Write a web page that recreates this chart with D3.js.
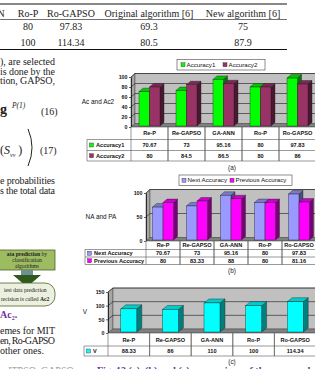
<!DOCTYPE html>
<html>
<head>
<meta charset="utf-8">
<script src="https://cdn.jsdelivr.net/npm/d3@7"></script>
<style>
  body { margin: 0; background: #fff; overflow: hidden; }
  svg { display: block; }
</style>
</head>
<body>
<div id="page"></div>
<script>
// chart data
const categories = ["Re-P", "Re-GAPSO", "GA-ANN", "Ro-P", "Ro-GAPSO"];
const accuracy1 = [70.67, 73, 95.16, 80, 97.83];
const accuracy2 = [80, 84.5, 86.5, 80, 86];
const nextAccuracy = [70.67, 73, 95.16, 80, 97.83];
const previousAccuracy = [80, 83.33, 88, 80, 81.16];
const vValues = [88.33, 86, 110, 100, 114.34];
const ticksA = [0, 20, 40, 60, 80, 100];
const ticksB = [0, 50, 100];
const ticksC = [0, 50, 100, 150];

// table at the top of the page
const topHeader = ["N", "Ro-P", "Ro-GAPSO", "Original algorithm [6]", "New algorithm [6]"];
const topRow1 = ["", "80", "97.83", "69.3", "75"];
const topRow2 = ["", "100", "114.34", "80.5", "87.9"];

const serif = "'Liberation Serif', 'Times New Roman', serif";
const sans = "'Liberation Sans', Arial, sans-serif";

function init() {
    let svg = d3.select("#page").append("svg")
        .attr("width", 315)
        .attr("height", 369);

    // ---- top table ----
    let colCenters = [1, 28, 71, 149, 243];
    let tbl = svg.append("g").attr("font-family", serif).attr("font-size", 10).attr("fill", "#222");
    tbl.append("line").attr("x1", 0).attr("x2", 287).attr("y1", 4).attr("y2", 4).attr("stroke", "#111").attr("stroke-width", 1);
    tbl.append("line").attr("x1", 0).attr("x2", 287).attr("y1", 19.5).attr("y2", 19.5).attr("stroke", "#111").attr("stroke-width", 0.6);
    tbl.append("line").attr("x1", 0).attr("x2", 287).attr("y1", 49.5).attr("y2", 49.5).attr("stroke", "#111").attr("stroke-width", 1);
    [[topHeader, 16.5], [topRow1, 30], [topRow2, 45.5]].forEach(([row, yy]) => {
        tbl.selectAll(null).data(row).join("text")
            .attr("x", (d, i) => colCenters[i])
            .attr("y", yy)
            .attr("text-anchor", "middle")
            .text(d => d);
    });

    // ---- left column text (page body) ----
    let body = svg.append("g").attr("font-family", serif).attr("font-size", 10).attr("fill", "#222");
    let justified = [["), are selected", 64.5], ["is done by the", 74.5], ["tion, GAPSO,", 83.5],
                     ["e probabilities", 183.5], ["s the total data", 193.5],
                     ["emes for MIT", 333.5], ["en, Ro-GAPSO", 343.5]];
    justified.forEach(([t, yy]) => {
        body.append("text").attr("x", 0).attr("y", yy)
            .attr("textLength", 55).attr("lengthAdjust", "spacing").text(t);
    });
    body.append("text").attr("x", 0).attr("y", 353.5).text("other ones.");

    // equation (16)
    body.append("text").attr("x", 0).attr("y", 114).attr("font-size", 14).attr("font-weight", "bold").text("g");
    body.append("text").attr("x", 12).attr("y", 108).attr("font-size", 7.5).attr("font-style", "italic").text("P(1)");
    body.append("text").attr("x", 41).attr("y", 115).text("(16)");
    // equation (17)
    let eq = body.append("text").attr("x", 0).attr("y", 154).attr("font-size", 12);
    eq.append("tspan").text("(");
    eq.append("tspan").attr("font-style", "italic").text("S");
    eq.append("tspan").attr("font-size", 6).attr("dy", 3).attr("font-style", "italic").text("vv");
    eq.append("tspan").attr("dy", -3).text(" )");
    body.append("path").attr("d", "M28,129 Q36,147.5 28,166").attr("fill", "none").attr("stroke", "#222").attr("stroke-width", 1);
    body.append("text").attr("x", 40).attr("y", 153.5).text("(17)");

    // flowchart fragment
    let fc = svg.append("g").attr("font-family", serif).attr("font-size", 5.6).attr("fill", "#222");
    fc.append("rect").attr("x", -2).attr("y", 250).attr("width", 57).attr("height", 20)
        .attr("fill", "#9dbb61").attr("stroke", "#4f6228").attr("stroke-width", 0.8);
    let f1 = fc.append("text").attr("x", 27).attr("y", 256).attr("text-anchor", "middle");
    f1.append("tspan").attr("font-weight", "bold").text("ata prediction");
    f1.append("tspan").text(" by");
    fc.append("text").attr("x", 27).attr("y", 262).attr("text-anchor", "middle").text("classification");
    fc.append("text").attr("x", 27).attr("y", 268).attr("text-anchor", "middle").text("algorithms");
    fc.append("rect").attr("x", 21).attr("y", 270).attr("width", 12).attr("height", 5).attr("fill", "#6c8f93");
    fc.append("polygon").attr("points", "13,275 41,275 27,287").attr("fill", "#2e5a1c");
    fc.append("rect").attr("x", -12).attr("y", 283).attr("width", 67).attr("height", 23).attr("rx", 10)
        .attr("fill", "#ebf1de").attr("stroke", "#4f6228").attr("stroke-width", 0.8);
    fc.append("text").attr("x", 4).attr("y", 292).text("iest data prediction");
    let f2 = fc.append("text").attr("x", 1).attr("y", 301);
    f2.append("tspan").text("recision is called ");
    f2.append("tspan").attr("font-weight", "bold").text("Ac2");

    let ac = svg.append("text").attr("x", 0).attr("y", 318).attr("font-family", serif)
        .attr("font-size", 10).attr("font-weight", "bold").attr("fill", "#7030a0");
    ac.append("tspan").text("Ac");
    ac.append("tspan").attr("font-size", 6).attr("dy", 2).text("2");
    ac.append("tspan").attr("dy", -2).text(".");

    // bottom caption, cut by the page edge
    svg.append("text").attr("x", 97).attr("y", 374).attr("font-family", serif).attr("font-size", 10)
        .attr("font-weight", "bold").attr("fill", "#7030a0")
        .text("Fig. 13  (a), (b) and (c) comparison of the proposed methods");
    svg.append("text").attr("x", 0).attr("y", 374).attr("font-family", serif).attr("font-size", 10)
        .attr("fill", "#999").text("= ITPSO, GAPSO");

    // ---- the three 3D bar charts ----
    drawChart(svg.append("g"), {
        series: [
            {name: "Accuracy1", values: accuracy1, front: "#00ff00", top: "#00c800", side: "#007a00"},
            {name: "Accuracy2", values: accuracy2, front: "#993366", top: "#7a2952", side: "#4a1830"}
        ],
        ticks: ticksA, max: 100,
        colX0: 131, colW: 37, y0: 127, yTop: 77, dx: 4, dy: 3.5, barW: 10.5,
        legendX: 87, rows: [127, 139.5, 150.5, 161],
        title: "Ac and Ac2", titleX: 98, titleY: 104,
        caption: "(a)", captionY: 170,
        legend: {x: 177, y: 59.5, w: 88, h: 10.5, items: [181, 223]}
    });
    drawChart(svg.append("g"), {
        series: [
            {name: "Next Accuracy", values: nextAccuracy, front: "#9999ff", top: "#7a7acc", side: "#4c4c80"},
            {name: "Previous Accuracy", values: previousAccuracy, front: "#ff00ff", top: "#cc00cc", side: "#7a007a"}
        ],
        ticks: ticksB, max: 100,
        colX0: 146, colW: 34, y0: 241, yTop: 193, dx: 4, dy: 3.5, barW: 10.5,
        legendX: 85, rows: [241, 249.5, 257, 264.5],
        title: "NA and PA", titleX: 101, titleY: 219,
        caption: "(b)", captionY: 273,
        legend: {x: 179, y: 175, w: 113, h: 10.5, items: [182, 230]}
    });
    drawChart(svg.append("g"), {
        series: [
            {name: "V", values: vValues, front: "#00ffff", top: "#00cccc", side: "#007f7f"}
        ],
        ticks: ticksC, max: 150,
        colX0: 108, colW: 41.6, y0: 333, yTop: 292, dx: 5, dy: 4, barW: 16,
        legendX: 84, rows: [333, 346, 356],
        title: "V", titleX: 85, titleY: 314,
        caption: "(c)", captionY: 364,
        legend: null
    });
}

function drawChart(g, cfg) {
    let right = 340;
    let x = d3.scaleBand().domain(categories)
        .range([cfg.colX0, cfg.colX0 + categories.length * cfg.colW]);
    let y = d3.scaleLinear().domain([0, cfg.max]).range([cfg.y0, cfg.yTop]);
    let ax = cfg.colX0, dx = cfg.dx, dy = cfg.dy;
    let yMax = y(cfg.max), y0 = y(0);

    // walls and floor
    g.append("polygon")
        .attr("points", [[ax, yMax], [ax + dx, yMax - dy], [ax + dx, y0 - dy], [ax, y0]].join(" "))
        .attr("fill", "#a6a6a6").attr("stroke", "#444").attr("stroke-width", 0.5);
    g.append("rect")
        .attr("x", ax + dx).attr("y", yMax - dy)
        .attr("width", right - ax - dx).attr("height", y0 - yMax)
        .attr("fill", "#c0c0c0").attr("stroke", "#444").attr("stroke-width", 0.5);
    g.append("polygon")
        .attr("points", [[ax, y0], [ax + dx, y0 - dy], [right, y0 - dy], [right, y0]].join(" "))
        .attr("fill", "#808080").attr("stroke", "#444").attr("stroke-width", 0.5);

    // gridlines
    g.selectAll(".grid").data(cfg.ticks.filter(t => t > 0)).join("polyline")
        .attr("class", "grid")
        .attr("points", t => [[ax, y(t)], [ax + dx, y(t) - dy], [right, y(t) - dy]].join(" "))
        .attr("fill", "none").attr("stroke", "#1a1a1a").attr("stroke-width", 0.6);

    // y axis
    g.append("g")
        .attr("transform", "translate(" + ax + ",0)")
        .call(d3.axisLeft(y).tickValues(cfg.ticks).tickSize(2).tickSizeOuter(0).tickPadding(1.5).tickFormat(d3.format("d")))
        .call(a => {
            a.select(".domain").attr("stroke", "#000").attr("stroke-width", 0.7);
            a.selectAll("line").attr("stroke", "#000").attr("stroke-width", 0.6);
            a.selectAll("text").attr("font-family", sans).attr("font-size", 5.3)
                .attr("font-weight", "bold").attr("fill", "#111");
        });

    // bars
    let n = cfg.series.length;
    categories.forEach((c, i) => {
        cfg.series.forEach((s, j) => {
            let bx = x(c) + x.bandwidth() / 2 - n * cfg.barW / 2 + j * cfg.barW;
            let top = y(s.values[i]), bottom = y0 - 1;
            let w = cfg.barW;
            g.append("polygon")
                .attr("points", [[bx + w, top], [bx + w + dx, top - dy], [bx + w + dx, bottom - dy], [bx + w, bottom]].join(" "))
                .attr("fill", s.side).attr("stroke", "#222").attr("stroke-width", 0.4);
            g.append("polygon")
                .attr("points", [[bx, top], [bx + dx, top - dy], [bx + w + dx, top - dy], [bx + w, top]].join(" "))
                .attr("fill", s.top).attr("stroke", "#222").attr("stroke-width", 0.4);
            g.append("rect")
                .attr("x", bx).attr("y", top).attr("width", w).attr("height", bottom - top)
                .attr("fill", s.front).attr("stroke", "#222").attr("stroke-width", 0.4);
        });
    });

    // data table
    let rows = cfg.rows;
    let tableRight = right;
    let lineCol = "#555";
    g.append("rect").attr("x", ax).attr("y", rows[0]).attr("width", tableRight - ax).attr("height", rows[1] - rows[0]).attr("fill", "#fff");
    g.append("rect").attr("x", cfg.legendX).attr("y", rows[1]).attr("width", tableRight - cfg.legendX)
        .attr("height", rows[rows.length - 1] - rows[1]).attr("fill", "#fff");
    g.append("line").attr("x1", ax).attr("x2", tableRight).attr("y1", rows[0]).attr("y2", rows[0])
        .attr("stroke", lineCol).attr("stroke-width", 0.6);
    rows.slice(1).forEach(r => {
        g.append("line").attr("x1", cfg.legendX).attr("x2", tableRight).attr("y1", r).attr("y2", r)
            .attr("stroke", lineCol).attr("stroke-width", 0.6);
    });
    g.append("line").attr("x1", cfg.legendX).attr("x2", cfg.legendX).attr("y1", rows[1]).attr("y2", rows[rows.length - 1])
        .attr("stroke", lineCol).attr("stroke-width", 0.6);
    categories.forEach(c => {
        [x(c), x(c) + x.bandwidth()].forEach(xx => {
            g.append("line").attr("x1", xx).attr("x2", xx).attr("y1", rows[0]).attr("y2", rows[rows.length - 1])
                .attr("stroke", lineCol).attr("stroke-width", 0.6);
        });
    });
    let tg = g.append("g").attr("font-family", sans).attr("font-size", 5.6).attr("font-weight", "bold").attr("fill", "#111");
    tg.selectAll(".head").data(categories).join("text")
        .attr("class", "head")
        .attr("x", d => x(d) + x.bandwidth() / 2)
        .attr("y", (rows[0] + rows[1]) / 2 + 2)
        .attr("text-anchor", "middle")
        .text(d => d);
    cfg.series.forEach((s, j) => {
        let ym = (rows[j + 1] + rows[j + 2]) / 2;
        tg.selectAll(".v" + j).data(s.values).join("text")
            .attr("class", "v" + j)
            .attr("x", (d, i) => x(categories[i]) + x.bandwidth() / 2)
            .attr("y", ym + 2)
            .attr("text-anchor", "middle")
            .text(d => d);
        tg.append("rect").attr("x", cfg.legendX + 2.5).attr("y", ym - 2).attr("width", 4).attr("height", 4)
            .attr("fill", s.front).attr("stroke", "#333").attr("stroke-width", 0.4);
        tg.append("text").attr("x", cfg.legendX + 9).attr("y", ym + 2).text(s.name);
    });

    // axis title and caption
    g.append("text").attr("x", cfg.titleX).attr("y", cfg.titleY).attr("text-anchor", "middle")
        .attr("font-family", sans).attr("font-size", 6.4).attr("fill", "#111").text(cfg.title);
    g.append("text").attr("x", 232).attr("y", cfg.captionY).attr("text-anchor", "middle")
        .attr("font-family", sans).attr("font-size", 6.4).attr("fill", "#222").text(cfg.caption);

    // legend box
    if (cfg.legend) {
        let L = cfg.legend;
        g.append("rect").attr("x", L.x).attr("y", L.y).attr("width", L.w).attr("height", L.h)
            .attr("fill", "#fff").attr("stroke", "#444").attr("stroke-width", 0.6);
        cfg.series.forEach((s, j) => {
            g.append("rect").attr("x", L.items[j]).attr("y", L.y + L.h / 2 - 2).attr("width", 4).attr("height", 4)
                .attr("fill", s.front).attr("stroke", "#333").attr("stroke-width", 0.4);
            g.append("text").attr("x", L.items[j] + 5.5).attr("y", L.y + L.h / 2 + 2.2)
                .attr("font-family", sans).attr("font-size", 6.2).attr("fill", "#111").text(s.name);
        });
    }
}

init();
</script>
</body>
</html>
